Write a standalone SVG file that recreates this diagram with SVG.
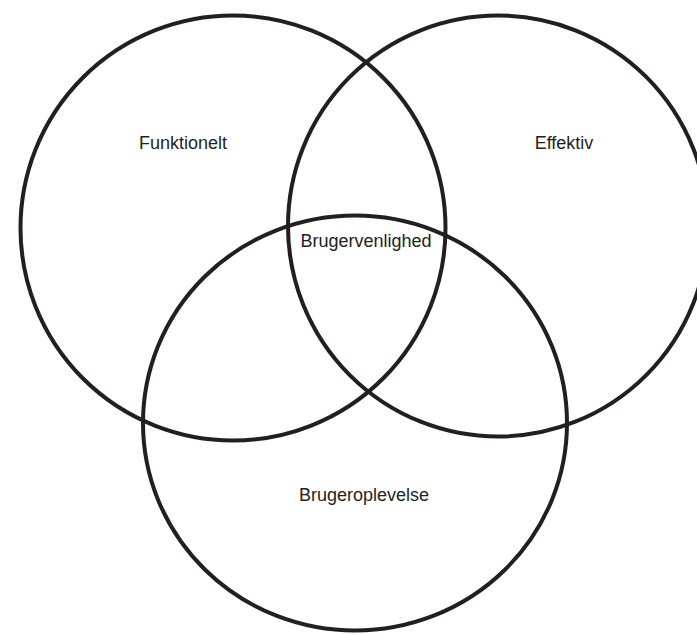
<svg xmlns="http://www.w3.org/2000/svg" width="697" height="634" viewBox="0 0 697 634">
<style>
.c{fill:none;stroke:#231f20;stroke-width:4}
.t{font-family:"Liberation Sans",Arial,sans-serif;font-size:18px;fill:#231f20;text-anchor:middle}
</style>
<rect width="697" height="634" fill="#fff"/>
<g id="funktionelt"><ellipse class="c" cx="233" cy="228" rx="212.5" ry="212.5"/><text class="t" x="183" y="148.5">Funktionelt</text></g>
<g id="effektiv"><ellipse class="c" cx="498" cy="226" rx="210" ry="210.5"/><text class="t" x="564" y="148.5">Effektiv</text></g>
<g id="brugeroplevelse"><ellipse class="c" cx="355" cy="423" rx="212" ry="207.5"/><text class="t" x="364" y="500.5">Brugeroplevelse</text></g>
<g id="brugervenlighed"><text class="t" x="366" y="246.5">Brugervenlighed</text></g>
<g id="connectors"/>
</svg>
